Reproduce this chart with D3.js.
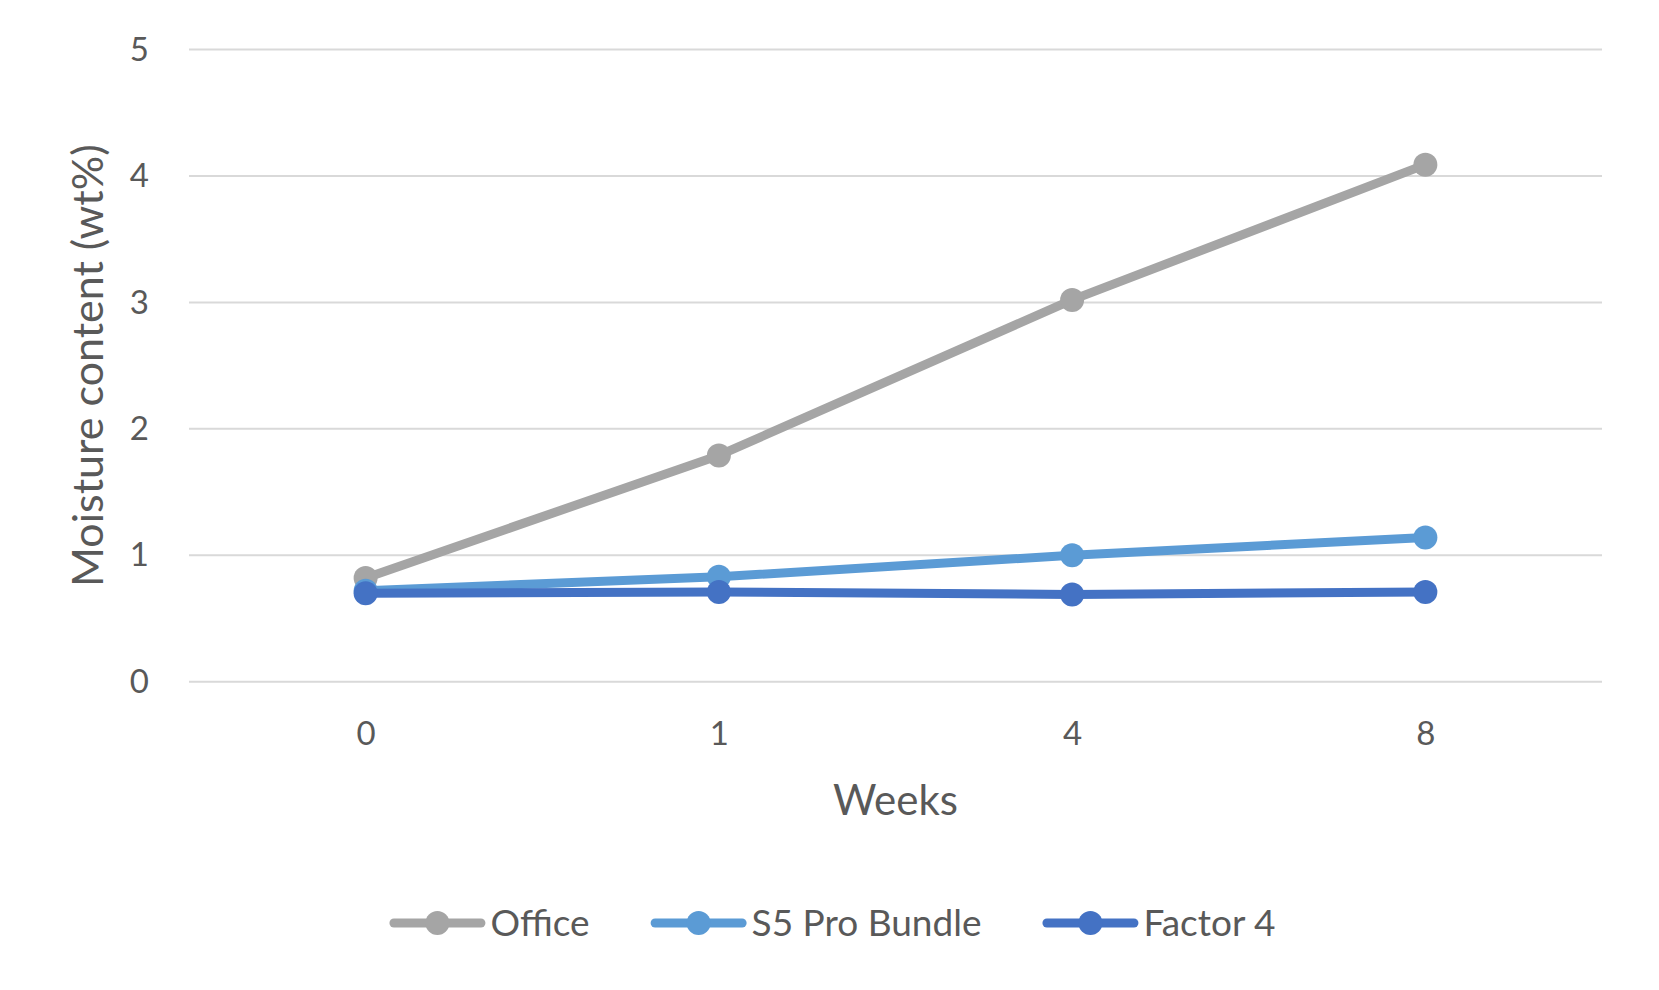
<!DOCTYPE html>
<html>
<head>
<meta charset="utf-8">
<script src="https://d3js.org/d3.v7.min.js"></script>
<style>
	body { margin: 0; background: #fff; }
	text { font-family: Lato, "Open Sans", sans-serif; fill: #595959; }
</style>
</head>
<body>
<div id="chart"></div>
<script>
	// chart data
	var weeks = ["0", "1", "4", "8"];
	var seriesNames = ["Office", "S5 Pro Bundle", "Factor 4"];
	var office = [0.82, 1.79, 3.02, 4.09];
	var s5ProBundle = [0.72, 0.83, 1.0, 1.14];
	var factor4 = [0.70, 0.71, 0.69, 0.71];
	var yTicks = [0, 1, 2, 3, 4, 5];
	var colors = ["#a5a5a5", "#5b9bd5", "#4472c4"];

	var W = 1659, H = 990;
	var margin = {top: 49.6, right: 57, bottom: 308.3, left: 189};
	var width = W - margin.left - margin.right,
		height = H - margin.top - margin.bottom;

	var svg = d3.select("#chart").append("svg")
		.attr("width", W)
		.attr("height", H);

	var g = svg.append("g")
		.attr("transform", "translate(" + margin.left + "," + margin.top + ")");

	// x is categorical, points sit in the middle of each band
	var x = d3.scalePoint()
		.domain(weeks)
		.range([0, width])
		.padding(0.5);

	var y = d3.scaleLinear()
		.domain([0, 5])
		.range([height, 0]);

	// horizontal gridlines
	g.append("g")
		.selectAll("line")
		.data(yTicks)
		.enter().append("line")
			.attr("x1", 0)
			.attr("x2", width)
			.attr("y1", function(d) { return y(d); })
			.attr("y2", function(d) { return y(d); })
			.attr("stroke", "#d9d9d9")
			.attr("stroke-width", 2);

	// y axis labels
	var yAxis = g.append("g")
		.attr("transform", "translate(-40,0)")
		.call(d3.axisLeft(y).tickValues(yTicks).tickFormat(d3.format("d")).tickSize(0).tickPadding(0));
	yAxis.select(".domain").remove();
	yAxis.selectAll("text")
		.attr("font-size", 33)
		.attr("font-family", "Lato, sans-serif")
		.style("fill", "#595959");

	// x axis labels
	var xAxis = g.append("g")
		.attr("transform", "translate(0," + height + ")")
		.call(d3.axisBottom(x).tickSize(0).tickPadding(40));
	xAxis.select(".domain").remove();
	xAxis.selectAll("text")
		.attr("font-size", 33)
		.attr("font-family", "Lato, sans-serif")
		.style("fill", "#595959");

	// axis titles
	svg.append("text")
		.attr("x", margin.left + width / 2)
		.attr("y", 800)
		.attr("dy", "0.35em")
		.attr("text-anchor", "middle")
		.attr("font-size", 42)
		.text("Weeks");

	svg.append("text")
		.attr("transform", "translate(88," + (margin.top + height / 2) + ") rotate(-90)")
		.attr("dy", "0.35em")
		.attr("text-anchor", "middle")
		.attr("font-size", 43)
		.text("Moisture content (wt%)");

	var series = [office, s5ProBundle, factor4];

	var line = d3.line()
		.x(function(d, i) { return x(weeks[i]); })
		.y(function(d) { return y(d); });

	// lines + markers for each series
	series.forEach(function(vals, k) {
		g.append("path")
			.datum(vals)
			.attr("fill", "none")
			.attr("stroke", colors[k])
			.attr("stroke-width", 9)
			.attr("stroke-linejoin", "round")
			.attr("d", line);

		g.append("g")
			.selectAll("circle")
			.data(vals)
			.enter().append("circle")
				.attr("cx", function(d, i) { return x(weeks[i]); })
				.attr("cy", function(d) { return y(d); })
				.attr("r", 12)
				.attr("fill", colors[k]);
	});

	// legend, centered across the whole picture
	var legend = svg.append("g");
	var lx = 0;
	seriesNames.forEach(function(name, k) {
		var item = legend.append("g").attr("transform", "translate(" + lx + ",0)");
		item.append("line")
			.attr("x1", 4.5).attr("x2", 91.5)
			.attr("y1", 0).attr("y2", 0)
			.attr("stroke", colors[k])
			.attr("stroke-width", 9)
			.attr("stroke-linecap", "round");
		item.append("circle")
			.attr("cx", 48).attr("cy", 0).attr("r", 12)
			.attr("fill", colors[k]);
		var t = item.append("text")
			.attr("x", 101)
			.attr("dy", "0.35em")
			.attr("font-size", 37)
			.text(name);
		lx += 101 + t.node().getComputedTextLength() + 61;
	});
	var lw = lx - 61;
	legend.attr("transform", "translate(" + (W / 2 - lw / 2 + 3) + ",923)");
</script>
</body>
</html>
